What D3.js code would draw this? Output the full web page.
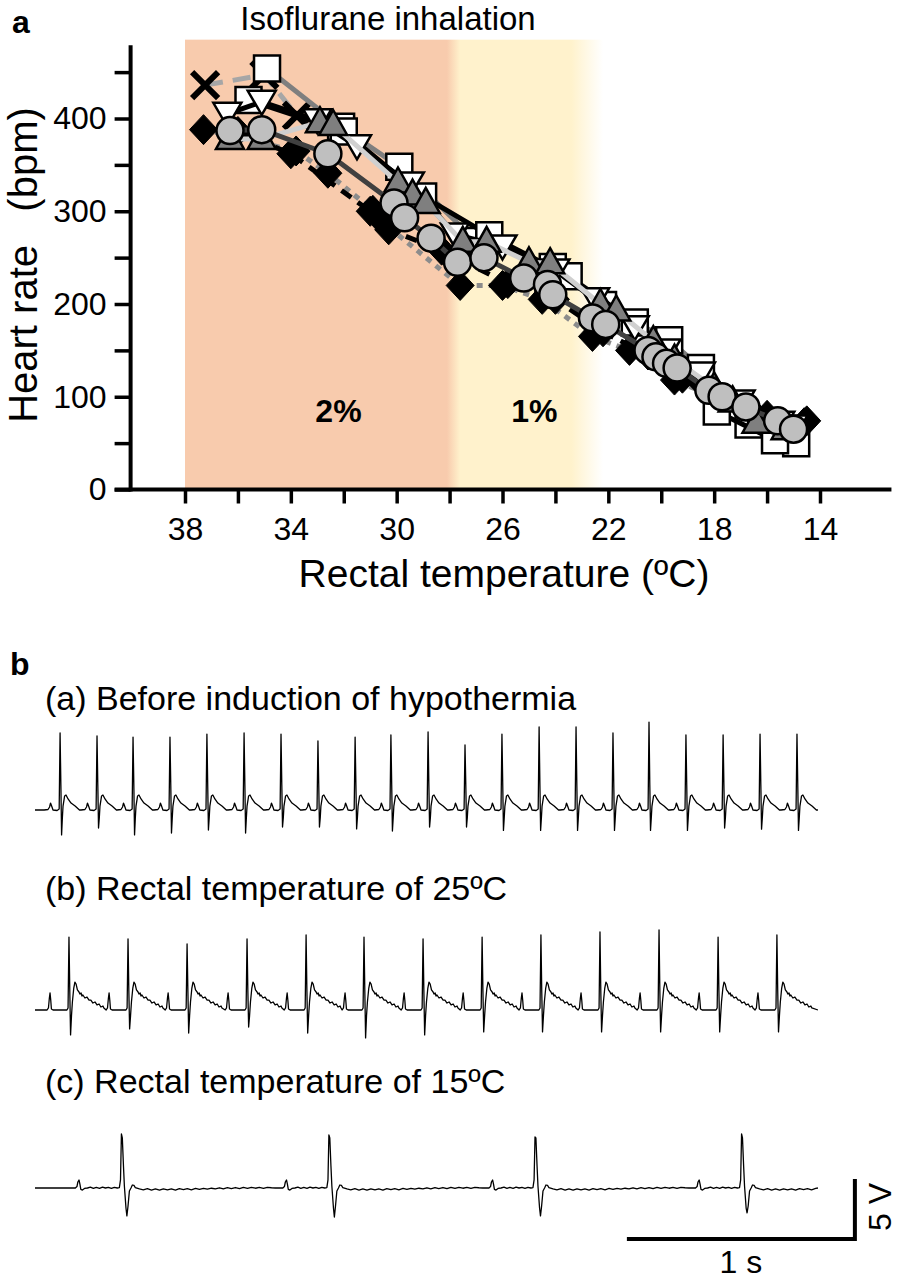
<!DOCTYPE html>
<html><head><meta charset="utf-8">
<script src="https://cdn.jsdelivr.net/npm/d3@7/dist/d3.min.js"></script>
<style>
body{margin:0;background:#fff}
svg{display:block}
text{font-family:"Liberation Sans",Arial,Helvetica,sans-serif;fill:#000}
</style></head>
<body><svg id="c" width="898" height="1282"></svg>
<script>
// ---------------- Panel a data: [rectal temperature (°C), heart rate (bpm)] ----------------
const seriesCross = [[37.24,436],[35.0,447],[33.77,403]];
const seriesSquareA = [[34.9,454],[32.1,391],[29.9,348],[27.0,268],[24.1,240],[22.2,199],[19.7,161],[18.5,131],[16.7,70],[14.9,50]];
const seriesDiamondDotted = [[37.3,388],[33.8,365],[32.6,341],[30.9,301],[30.4,285],[27.6,220],[26.0,220],[24.5,205],[22.6,165],[21.2,150],[19.5,118],[18.0,100],[16.5,82],[14.6,72]];
const seriesDiamondDashed = [[36.0,386],[34.0,362],[31.0,300],[30.3,280],[28.3,258],[25.8,222],[24.0,205],[22.2,170],[20.5,145],[19.2,120],[17.5,98],[16.0,80],[14.5,74]];
const seriesSquareB = [[35.6,420],[32.0,386],[29.0,316],[26.5,274],[23.5,230],[21.0,180],[17.9,84],[15.7,53]];
const seriesTriDown = [[36.4,405],[35.1,418],[33.0,398],[31.5,370],[29.5,330],[27.8,275],[26.0,262],[24.0,236],[22.5,205],[21.0,175],[19.8,150],[18.5,125],[17.0,95],[15.5,72],[15.0,68]];
const seriesTriUp = [[36.3,378],[35.1,378],[32.9,396],[32.4,393],[29.95,331],[29.4,318],[28.9,309],[27.5,267],[26.6,267],[25.0,245],[24.2,244],[22.3,200],[21.7,193],[20.3,160],[19.5,140],[18.0,110],[17.3,95],[16.4,72],[15.3,65]];
const seriesCircle = [[36.3,387],[35.1,388],[32.6,362],[30.1,309],[29.7,293],[28.7,271],[27.7,245],[26.7,250],[25.2,228],[24.3,221],[24.1,210],[22.6,185],[22.1,178],[20.5,150],[20.2,143],[19.8,136],[19.4,131],[18.2,107],[17.7,100],[16.8,89],[15.6,74],[15.0,65]];

const xTicks = [38,36,34,32,30,28,26,24,22,20,18,16,14];
const xTickLabels = ["38","","34","","30","","26","","22","","18","","14"];
const yTicks = [0,50,100,150,200,250,300,350,400,450];
const yTickLabels = ["0","","100","","200","","300","","400",""];
// shaded isoflurane band (temperature stops and colours)
const shadeStopsT = [38, 28.1, 27.6, 23.4, 22.2];
const shadeColors = ["#F8CBAD","#F8CBAD","#FFF2CC","#FFF2CC","#FFFFFF"];
const doseLabels = [["2%",32.2],["1%",24.8]];

// ---------------- Panel b data (ECG) ----------------
// beat (R-peak) times in s, R amplitudes and S depths in V, beat waveform template (ms, V)
const beatsA = [0.110,0.272,0.430,0.592,0.754,0.917,1.079,1.241,1.404,1.561,1.724,1.886,2.048,2.211,2.373,2.535,2.693,2.855,3.018,3.180,3.342];
const rAmpA = [6.42,6.17,6.08,6.08,6.33,6.42,6.33,5.75,6.08,6.25,6.5,5.42,6.33,6.92,6.92,6.42,7.33,6.25,6.25,6.33,6.33];
const sDepA = [2.08,1.5,2.08,1.92,1.67,1.92,1.42,1.42,1.58,1.75,1.42,1.42,1.7,1.7,1.7,1.7,1.7,1.7,1.5,1.6,1.7];
const tmplA_ms = [-70,-53,-46,-42,-37,-31,-13,-4,0,3.5,6.6,10,13,20,26,35,48,66,85];
const tmplA_V  = [0,0.04,0.25,0.58,0.33,0,-0.04,0.08,"R",2.1,"S",-0.67,0.33,1.17,1.25,0.92,0.58,0.33,0];

const beatsB = [0.149,0.408,0.667,0.930,1.189,1.443,1.702,1.961,2.219,2.478,2.737,2.996,3.254];
const rAmpB = [6.08,5.92,5.5,5.92,6.25,6.08,5.92,6.08,6.25,6.5,6.67,6.08,6.25];
const sDepB = [2.08,1.58,1.92,1.42,1.92,2.33,2.08,1.83,1.83,1.83,1.83,1.83,1.83];
const tmplB_ms = [-96,-90,-86,-83,-80,-77,-70,-9,-4,0,3.5,7,11,15,21,26,31,37,44,48,53,57,61,70,79,88,96,105,114,123,132,140,149,153];
const tmplB_V  = [0,0.17,1.0,1.42,0.83,0.08,0,0,0.17,"R",1.67,"S",-0.5,0.67,1.83,2.33,2.17,1.67,1.5,1.33,1.42,1.17,1.25,1.0,1.08,0.83,0.83,0.58,0.67,0.42,0.5,0.25,0.33,0.17];

const beatsC = [0.379,1.289,2.193,3.099];
const rAmpC = [4.5,4.42,4.25,4.5];
const sDepC = [2.33,2.42,2.33,2.08];
const tmplC_ms = [-202,-195,-191,-186,-182,-178,-171,-162,-149,-136,-123,-110,-96,-83,-70,-57,-44,-31,-18,-9,-4,0,4,9,13,20,24,29,35,42,48,55,61,
  79,96,114,132,149,167,184,202,219,237,254,272,289,307,325,342,360,377,395,412,430,447,465,482,500,518,535,553,570,588,605,623,640,658,675];
const tmplC_V  = [0,0.12,0.5,0.67,0.33,-0.12,-0.17,-0.04,0,0.07,-0.03,0.05,-0.03,0.07,0,0.05,-0.03,0.06,0,0.03,0.67,"R",4.17,1.83,0.17,-1.67,"S",-1.5,-0.25,0,0.25,0.21,0.04,
  -0.08,-0.15,-0.06,-0.17,-0.08,-0.18,-0.07,-0.16,-0.08,-0.17,-0.05,-0.14,-0.06,-0.15,-0.04,-0.12,-0.03,-0.1,-0.02,-0.08,0.02,-0.07,0.03,-0.05,0.04,-0.06,0.05,-0.03,0.06,-0.02,0.05,-0.03,0.06,0.02,0];

const traceLabels = ["(a) Before induction of hypothermia","(b) Rectal temperature of 25ºC","(c) Rectal temperature of 15ºC"];

// ---------------- Drawing ----------------
const svg = d3.select("#c");
const x = d3.scaleLinear().domain([38,14]).range([185,820]);
const y = d3.scaleLinear().domain([0,400]).range([489.5,118.5]);
const yAxisX = 130.6;

// shading
const defs = svg.append("defs");
const grad = defs.append("linearGradient").attr("id","shade").attr("gradientUnits","userSpaceOnUse")
  .attr("x1",x(shadeStopsT[0])).attr("x2",x(shadeStopsT[shadeStopsT.length-1])).attr("y1",0).attr("y2",0);
const sx = d3.scaleLinear().domain([x(shadeStopsT[0]), x(shadeStopsT[shadeStopsT.length-1])]).range([0,1]);
shadeStopsT.forEach((t,i)=>grad.append("stop").attr("offset",sx(x(t))).attr("stop-color",shadeColors[i]));
svg.append("rect").attr("x",x(38)).attr("y",y(485)).attr("width",x(22.2)-x(38)).attr("height",y(0)-y(485)).attr("fill","url(#shade)");

// axes
const gx = svg.append("g").attr("transform",`translate(0,${y(0)})`)
  .call(d3.axisBottom(x).tickValues(xTicks).tickSize(14).tickPadding(14).tickFormat((d,i)=>xTickLabels[i]));
const gy = svg.append("g").attr("transform",`translate(${yAxisX},0)`)
  .call(d3.axisLeft(y).tickValues(yTicks).tickSize(16).tickPadding(8).tickFormat((d,i)=>yTickLabels[i]));
[gx,gy].forEach(g=>{
  g.select(".domain").remove();
  g.selectAll(".tick line").attr("stroke","#000").attr("stroke-width",3.5);
  g.selectAll(".tick text").attr("font-size",32).attr("font-family",null);
});
svg.append("line").attr("x1",yAxisX-16).attr("x2",x(11.3)).attr("y1",y(0)).attr("y2",y(0)).attr("stroke","#000").attr("stroke-width",4);
svg.append("line").attr("x1",yAxisX).attr("x2",yAxisX).attr("y1",y(479)).attr("y2",y(0)+2).attr("stroke","#000").attr("stroke-width",4);

// dose labels
doseLabels.forEach(([t,T])=>svg.append("text").attr("x",x(T)).attr("y",y(73)).attr("text-anchor","middle")
  .attr("font-size",32).attr("font-weight","bold").text(t));

// series drawing
const line = d3.line().x(d=>x(d[0])).y(d=>y(d[1]));
function drawSeries(data, lineColor, dash, marker){
  svg.append("path").datum(data).attr("d",line).attr("fill","none").attr("stroke",lineColor)
    .attr("stroke-width",5).attr("stroke-dasharray",dash).attr("stroke-linejoin","round");
  const g = svg.append("g");
  data.forEach(d=>{
    const cx=x(d[0]), cy=y(d[1]);
    const m = g.append("g").attr("transform",`translate(${cx},${cy})`);
    if(marker==="circle") m.append("circle").attr("r",13.5).attr("fill","#BFBFBF").attr("stroke","#000").attr("stroke-width",2.5);
    if(marker==="squareW") m.append("path").attr("d","M-13,-13h26v26h-26z").attr("fill","#fff").attr("stroke","#000").attr("stroke-width",2.5);
    if(marker==="triDownW") m.append("path").attr("d","M0,13L14,-11L-14,-11Z").attr("fill","#fff").attr("stroke","#000").attr("stroke-width",2.5);
    if(marker==="triUpG") m.append("path").attr("d","M0,-15L14,10L-14,10Z").attr("fill","#7F7F7F").attr("stroke","#000").attr("stroke-width",2.5);
    if(marker==="diamond") m.append("path").attr("d","M0,-15L14,0L0,15L-14,0Z").attr("fill","#000").attr("stroke","#000").attr("stroke-width",1);
    if(marker==="cross") m.append("path").attr("d","M-13,-13L13,13M13,-13L-13,13").attr("stroke","#000").attr("stroke-width",6);
  });
}
drawSeries(seriesCross,"#A6A6A6","18,10","cross");
drawSeries(seriesSquareA,"#7F7F7F",null,"squareW");
drawSeries(seriesDiamondDotted,"#8C8C8C","6,6","diamond");
drawSeries(seriesDiamondDashed,"#000","12,8","diamond");
drawSeries(seriesSquareB,"#000",null,"squareW");
drawSeries(seriesTriDown,"#000",null,"triDownW");
drawSeries(seriesTriUp,"#D0D0D0",null,"triUpG");
drawSeries(seriesCircle,"#404040",null,"circle");

// panel a texts
svg.append("text").attr("x",12).attr("y",33).attr("font-size",32).attr("font-weight","bold").text("a");
svg.append("text").attr("x",388).attr("y",30).attr("text-anchor","middle").attr("font-size",33).text("Isoflurane inhalation");
svg.append("text").attr("transform","translate(37,265) rotate(-90)").attr("text-anchor","middle").attr("font-size",40).attr("xml:space","preserve").text("Heart rate   (bpm)");
svg.append("text").attr("x",504).attr("y",587).attr("text-anchor","middle").attr("font-size",39).text("Rectal temperature (ºC)");

// ---------------- Panel b ----------------
svg.append("text").attr("x",10).attr("y",675).attr("font-size",32).attr("font-weight","bold").text("b");
const tEnd = 3.434;
const xt = d3.scaleLinear().domain([0,1]).range([35,263]); // 1 s = 228 px
const baselines = [810,1010,1188];
const labelY = [710,900,1093];
function buildTrace(beats,rAmp,sDep,tms,tv){
  const pts=[[0,0]];
  beats.forEach((b,i)=>{
    tms.forEach((ms,j)=>{
      const t=b+ms/1000;
      if(t<0||t>tEnd) return;
      let v=tv[j]; if(v==="R") v=rAmp[i]; if(v==="S") v=-sDep[i];
      if(v===undefined) return;
      pts.push([t,v]);
    });
  });
  pts.push([tEnd,0]);
  return pts;
}
const traces=[buildTrace(beatsA,rAmpA,sDepA,tmplA_ms,tmplA_V),buildTrace(beatsB,rAmpB,sDepB,tmplB_ms,tmplB_V),buildTrace(beatsC,rAmpC,sDepC,tmplC_ms,tmplC_V)];
traces.forEach((pts,k)=>{
  const yv=d3.scaleLinear().domain([0,5]).range([baselines[k],baselines[k]-60]); // 5 V = 60 px
  svg.append("path").datum(pts).attr("d",d3.line().x(d=>xt(d[0])).y(d=>yv(d[1]))).attr("fill","none")
    .attr("stroke","#000").attr("stroke-width",1.3).attr("stroke-linejoin","round");
  svg.append("text").attr("x",45).attr("y",labelY[k]).attr("font-size",34).text(traceLabels[k]);
});
// scale bar: 1 s, 5 V
const barT0 = 2.596, barY0 = 1239;
const yb = d3.scaleLinear().domain([0,5]).range([barY0,barY0-60]);
svg.append("path").attr("d",`M${xt(barT0)},${yb(0)}H${xt(barT0+1)}V${yb(5)}`).attr("fill","none").attr("stroke","#000").attr("stroke-width",4);
svg.append("text").attr("x",xt(barT0+0.5)).attr("y",1273).attr("text-anchor","middle").attr("font-size",32).text("1 s");
svg.append("text").attr("transform",`translate(891,${yb(2.5)-2}) rotate(-90)`).attr("text-anchor","middle").attr("font-size",32).text("5 V");
</script></body></html>
